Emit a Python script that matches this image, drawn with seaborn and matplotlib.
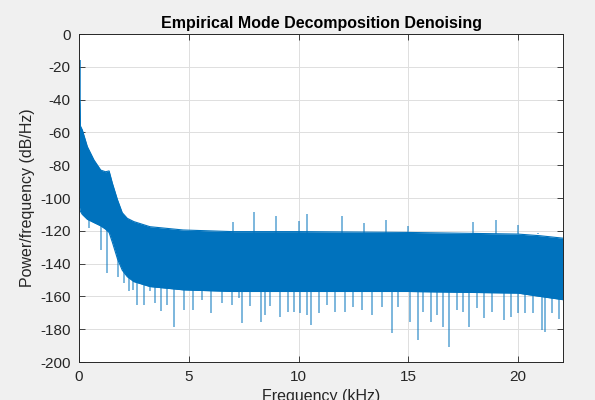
import numpy as np
import pandas as pd
import matplotlib
matplotlib.use("Agg")
import matplotlib.pyplot as plt
import seaborn as sns

# ---- data ----
env_freq_khz = [0.0, 0.03, 0.06, 0.15, 0.38, 0.68, 0.99, 1.21, 1.37, 1.52, 1.75,
                1.97, 2.2, 2.5, 3.23, 4.74, 7.0, 10.0, 15.0, 20.0, 21.0, 22.05]
upper_db = [-40, -42, -56, -58.5, -68.7, -76.8, -83, -84, -83.5, -91, -101,
            -109, -112.4, -114.4, -117.5, -119.5, -120.5, -120.5, -121, -122, -123, -124.5]
lower_db = [-106, -106, -108, -110, -113, -115, -117, -119, -121, -127, -137,
            -144, -148, -151, -154, -156, -157, -157, -157, -158, -160, -162]

dc_freq_khz = [0.03]
dc_db = [-16]

peak_freq_khz = [7.0, 7.97, 8.97, 10.0, 10.4, 11.97, 12.98, 13.99, 15.0, 17.96, 19.0, 20.0, 20.9]
peak_db = [-114.6, -108.7, -110.8, -113.8, -110.0, -110.8, -115.5, -113.2, -116.9, -114.4, -113.4, -116.3, -121.4]

dip_freq_khz = [0.47, 1.0, 1.29, 1.79, 2.07, 2.29, 2.48, 2.66, 2.96, 3.23, 3.46, 3.74, 4.0, 4.33,
                4.8, 5.21, 5.62, 6.01, 6.5, 6.96, 7.29, 7.41, 7.79, 8.29, 8.47, 8.7, 9.16, 9.54,
                9.81, 10.07, 10.37, 10.57, 10.93, 11.28, 11.66, 12.12, 12.5, 12.88, 13.33, 13.79,
                14.27, 14.55, 15.08, 15.43, 15.69, 16.04, 16.3, 16.6, 16.87, 17.2, 17.51, 17.78,
                18.12, 18.47, 18.8, 19.38, 19.68, 20.01, 20.32, 20.7, 21.08, 21.23, 21.54, 21.88]
dip_db = [-118.5, -131.7, -145.5, -148, -152, -157, -156, -165, -165, -157, -164, -168.7, -165, -178.9,
          -168, -168, -162, -170, -164, -165, -161, -176.4, -166, -175.4, -171.3, -166, -172.4, -169.3,
          -169.3, -170.3, -171.3, -177.4, -170.3, -165.2, -169.3, -169.3, -166.2, -168.3, -171.3, -166.2,
          -182.5, -166.2, -175.4, -186.6, -169.3, -175.4, -171.3, -178.5, -190.7, -168.3, -169.3, -178.5,
          -167.3, -173.4, -169.3, -174.4, -172.4, -170.3, -170.3, -170.3, -180.5, -181.5, -170.3, -174]

x_ticks = [0, 5, 10, 15, 20]
y_ticks = [-200, -180, -160, -140, -120, -100, -80, -60, -40, -20, 0]

blue = "#0072BD"
ink = "#262626"

sns.set_theme(style="whitegrid")
plt.rcParams["font.family"] = ["Liberation Sans", "DejaVu Sans"]

fig = plt.figure(figsize=(5.95, 4.0), dpi=100)
fig.patch.set_facecolor("#f0f0f0")
ax = fig.add_axes([0.1328, 0.095, 0.8134, 0.82])
ax.set_facecolor("white")

env = pd.DataFrame({"f": env_freq_khz, "up": upper_db, "lo": lower_db})
ax.fill_between(env["f"], env["lo"], env["up"], color=blue, lw=0, zorder=2)
sns.lineplot(data=env, x="f", y="up", color=blue, lw=0.8, ax=ax, zorder=2)
sns.lineplot(data=env, x="f", y="lo", color=blue, lw=0.8, ax=ax, zorder=2)

# narrow spikes
dip_start = np.interp(dip_freq_khz, env_freq_khz, lower_db) + 4
ax.vlines(dip_freq_khz, dip_start, dip_db, color=blue, lw=1.1, alpha=0.65, zorder=2)
ax.vlines(peak_freq_khz, -122, peak_db, color=blue, lw=1.1, alpha=0.65, zorder=2)
ax.vlines(dc_freq_khz, -60, dc_db, color=blue, lw=1.3, alpha=0.8, zorder=2)

ax.set_xlim(0, 22.05)
ax.set_ylim(-200, 0)
ax.set_xticks(x_ticks)
ax.set_xticklabels([str(t) for t in x_ticks])
ax.set_yticks(y_ticks)
ax.set_yticklabels([str(t) for t in y_ticks])

ax.grid(True, color="#dedede", lw=0.7)
ax.set_axisbelow(True)
for s in ax.spines.values():
    s.set_color(ink)
    s.set_linewidth(0.7)
    s.set_visible(True)
    s.set_zorder(5)
ax.tick_params(axis="both", which="both", direction="in", length=4, width=0.6,
               colors=ink, labelsize=11, top=True, right=True, bottom=True, left=True,
               labeltop=False, labelright=False, pad=6)

ax.set_title("Empirical Mode Decomposition Denoising", fontsize=11.5, fontweight="bold",
             color="black", pad=4)
ax.set_xlabel("Frequency (kHz)", fontsize=11.5, color=ink, labelpad=3)
ax.set_ylabel("Power/frequency (dB/Hz)", fontsize=11.5, color=ink, labelpad=4)

fig.savefig("out.png", dpi=100, facecolor=fig.get_facecolor())
